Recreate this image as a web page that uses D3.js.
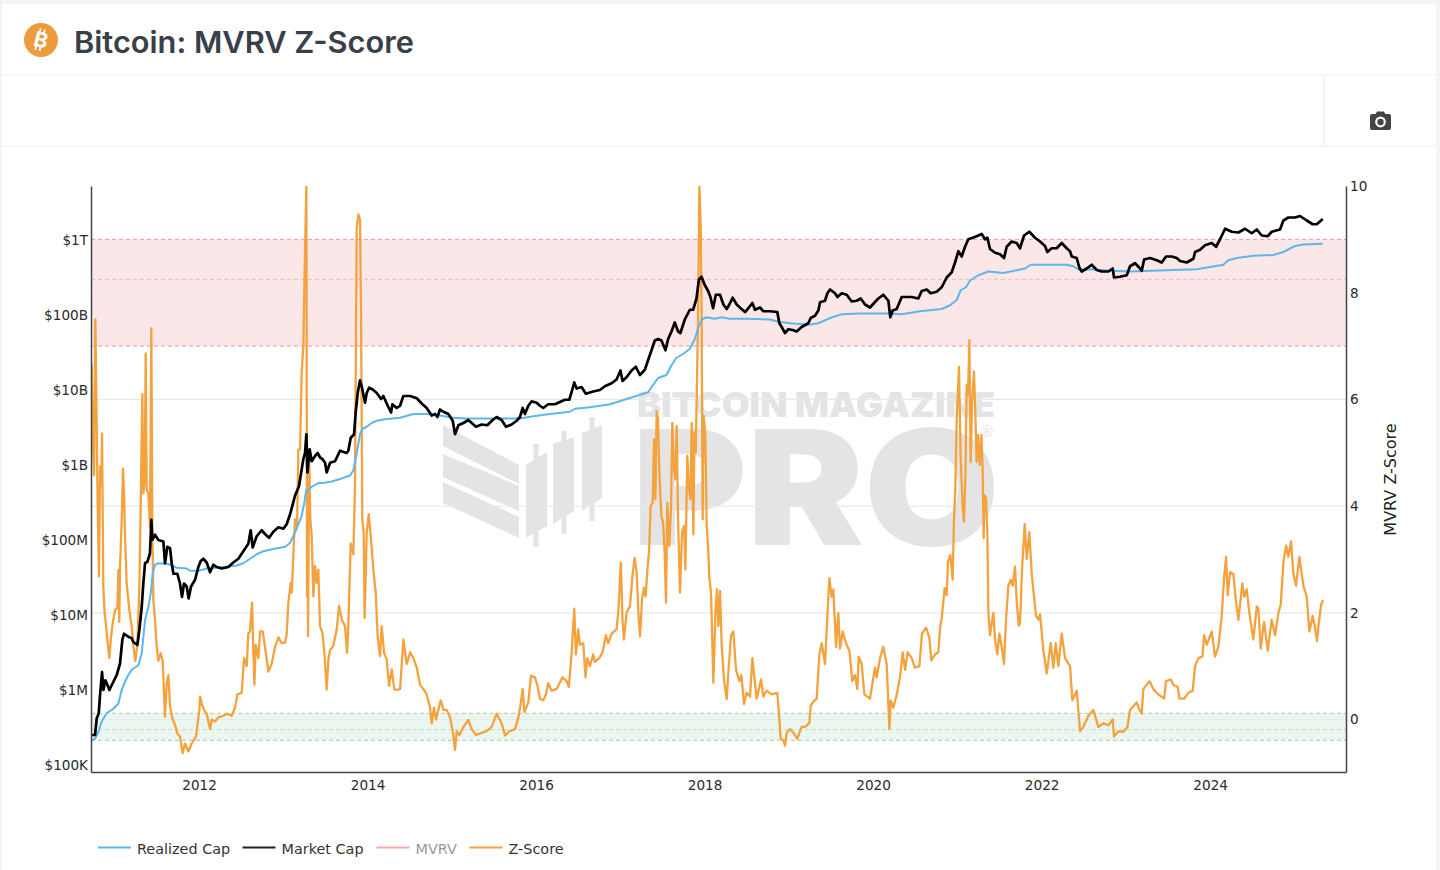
<!DOCTYPE html>
<html><head><meta charset="utf-8">
<script src="https://cdn.jsdelivr.net/npm/d3@7"></script>
<style>
html,body{margin:0;padding:0;background:#fff;width:1440px;height:870px;overflow:hidden}
svg{display:block}
text{font-family:"DejaVu Sans",sans-serif}
</style></head><body>
<svg id="c" width="1440" height="870"></svg>
<script>
// Every pair is [decimal year, value]. Z-Score values are raw; caps are log10(USD).
const zScoreA = [[2010.726,6.67],[2010.740,5.2],[2010.754,4.58],[2010.762,6.2],[2010.770,7.5],[2010.785,5.6],[2010.795,4.3],[2010.801,3.7],[2010.813,2.68],[2010.825,4.74],[2010.840,4.4],[2010.849,5.36],[2010.864,2.49],[2010.880,1.99],[2010.896,1.77],[2010.912,1.49],[2010.936,1.15],[2010.952,1.49],[2010.975,1.8],[2011.003,2.05],[2011.031,2.1],[2011.043,2.8],[2011.054,1.83],[2011.062,2.86],[2011.082,3.7],[2011.098,4.7],[2011.110,4.24],[2011.122,3.43],[2011.141,2.55],[2011.173,2.05],[2011.201,1.74],[2011.221,1.37],[2011.244,1.1],[2011.268,1.4],[2011.292,2.5],[2011.308,4.05],[2011.327,6.1],[2011.339,4.24],[2011.355,4.5],[2011.367,6.86],[2011.379,4.3],[2011.399,4.24],[2011.418,3.6],[2011.434,7.33],[2011.446,3.6],[2011.458,2.24],[2011.478,1.86],[2011.498,1.37],[2011.517,1.1],[2011.545,1.24],[2011.569,1.1],[2011.596,0.05],[2011.616,0.68],[2011.636,0.83],[2011.656,0.24],[2011.687,0],[2011.715,-0.1],[2011.743,-0.26],[2011.774,-0.32],[2011.806,-0.63],[2011.834,-0.45],[2011.873,-0.6],[2011.913,-0.45],[2011.964,-0.32],[2012.004,0.18]];
const zScoreB = [[2012.012,0.43],[2012.032,0.29],[2012.059,0.18],[2012.091,0.11],[2012.131,-0.18],[2012.150,0],[2012.190,-0.04],[2012.229,0.04],[2012.289,0.07],[2012.328,0.11],[2012.388,0.07],[2012.427,0.22],[2012.455,0.47],[2012.506,0.5],[2012.534,1.15],[2012.566,1.0],[2012.585,1.61],[2012.605,1.65],[2012.629,2.19],[2012.645,1.29],[2012.657,0.65],[2012.673,1.4],[2012.704,1.15],[2012.724,1.65],[2012.756,1.65],[2012.783,1.36],[2012.823,0.9],[2012.862,1.04],[2012.902,1.36],[2012.942,1.54],[2012.981,1.43],[2013.021,1.44],[2013.040,1.6],[2013.060,2.19],[2013.088,2.56],[2013.100,2.38],[2013.124,3.25],[2013.139,3.75],[2013.163,3.62],[2013.179,5.06],[2013.199,5.06],[2013.218,6.5],[2013.238,7.0],[2013.250,8.13],[2013.274,10],[2013.278,6.5],[2013.282,2.3],[2013.286,5.0],[2013.294,1.56],[2013.306,5.0],[2013.321,3.75],[2013.337,3.44],[2013.357,2.31],[2013.377,2.88],[2013.397,2.56],[2013.416,2.81],[2013.436,1.75],[2013.464,1.63],[2013.488,1.25],[2013.515,0.56],[2013.535,1.13],[2013.555,1.3],[2013.594,1.38],[2013.634,1.69],[2013.662,2.13],[2013.693,1.88],[2013.733,1.75],[2013.757,1.25],[2013.772,1.75],[2013.800,3.3],[2013.832,3.1],[2013.851,4.38],[2013.871,9.2],[2013.891,9.47],[2013.911,9.37],[2013.923,7.5],[2013.938,3.75],[2013.954,3.5],[2013.966,1.9],[2013.990,3.5],[2014.014,3.85],[2014.041,3.38],[2014.069,2.81],[2014.097,2.38],[2014.120,1.56],[2014.148,1.19],[2014.168,1.75],[2014.196,1.25],[2014.227,1.13],[2014.255,0.63],[2014.287,0.94],[2014.318,0.56],[2014.366,0.56]];
const zScoreC = [[2014.386,0.57],[2014.425,1.5],[2014.465,1.04],[2014.505,1.26],[2014.544,1.15],[2014.584,0.97],[2014.623,0.65],[2014.663,0.57],[2014.702,0.47],[2014.742,0.22],[2014.761,-0.07],[2014.789,0.22],[2014.813,0],[2014.868,0.36],[2014.900,0.18],[2014.939,0.18],[2014.979,0.04],[2015.011,-0.22],[2015.038,-0.57],[2015.058,-0.22],[2015.090,-0.29],[2015.137,-0.14],[2015.196,-0.01],[2015.236,-0.18],[2015.287,-0.29],[2015.354,-0.25],[2015.414,-0.22],[2015.473,-0.14],[2015.532,0.11],[2015.591,-0.07],[2015.631,-0.3],[2015.683,-0.22],[2015.750,-0.18],[2015.790,0.04],[2015.817,0.29],[2015.841,0.57],[2015.861,0.14],[2015.908,0.32],[2015.940,0.82],[2015.987,0.79],[2016.014,0.65],[2016.046,0.39],[2016.085,0.36],[2016.117,0.47],[2016.144,0.68],[2016.184,0.54],[2016.243,0.57],[2016.314,0.79],[2016.362,0.72],[2016.389,0.61],[2016.421,1.22],[2016.453,2.08],[2016.473,1.22],[2016.501,1.69],[2016.520,1.4],[2016.560,1.43],[2016.587,0.79],[2016.607,1.15],[2016.639,1.0],[2016.678,1.22],[2016.698,1.08],[2016.749,1.15],[2016.789,1.26],[2016.829,1.58],[2016.856,1.43],[2016.896,1.61],[2016.955,1.69],[2016.979,2.08],[2017.006,2.94],[2017.026,1.87],[2017.042,1.5],[2017.074,2.0],[2017.115,2.13]];
const zScoreD = [[2017.147,2.75],[2017.170,3.03],[2017.194,2.75],[2017.218,1.88],[2017.234,1.56],[2017.257,2.25],[2017.281,2.47],[2017.301,2.31],[2017.321,2.81],[2017.340,3.13],[2017.360,4.0],[2017.384,4.06],[2017.400,5.25],[2017.416,4.13],[2017.431,5.78],[2017.447,5.63],[2017.463,4.63],[2017.487,3.81],[2017.507,3.69],[2017.526,3.13],[2017.542,2.19],[2017.558,4.06],[2017.582,3.25],[2017.602,4.0],[2017.617,5.56],[2017.637,4.69],[2017.653,4.5],[2017.669,5.5],[2017.685,3.75],[2017.708,2.38],[2017.732,3.5],[2017.756,3.63],[2017.772,2.81],[2017.795,4.94],[2017.811,4.38],[2017.831,4.13],[2017.847,5.56],[2017.867,3.47],[2017.879,5.38],[2017.894,5.0],[2017.906,6.0],[2017.922,7.5],[2017.938,10],[2017.954,9.25],[2017.965,7.5],[2017.977,3.75],[2017.989,5.69],[2018.009,5.31],[2018.025,3.63],[2018.041,3.25],[2018.056,2.66],[2018.076,2.38],[2018.104,0.69],[2018.128,2.0],[2018.147,2.44],[2018.163,1.75],[2018.183,2.41],[2018.203,1.38],[2018.230,0.75],[2018.262,0.38],[2018.286,0.97],[2018.314,1.58],[2018.341,1.65],[2018.373,0.93],[2018.413,0.72],[2018.436,0.83],[2018.468,0.29],[2018.499,0.5],[2018.539,0.43],[2018.567,1.15],[2018.590,0.79],[2018.618,0.39],[2018.670,0.75],[2018.697,0.43],[2018.737,0.54],[2018.796,0.47],[2018.863,0.5],[2018.879,0.18],[2018.903,-0.36],[2018.935,-0.39],[2018.954,-0.49],[2018.974,-0.25],[2019.014,-0.18],[2019.053,-0.25],[2019.101,-0.36],[2019.152,-0.14],[2019.192,-0.14],[2019.243,-0.07],[2019.259,0.25],[2019.283,0.32],[2019.330,0.39],[2019.362,1.22],[2019.390,1.43],[2019.429,1.04],[2019.457,1.94],[2019.481,2.65],[2019.508,2.3],[2019.528,2.44],[2019.560,1.36],[2019.587,2.0],[2019.607,1.33],[2019.639,1.65],[2019.678,1.43],[2019.718,1.29],[2019.753,0.72],[2019.785,0.83],[2019.813,0.57],[2019.829,1.18],[2019.864,1.04],[2019.896,0.47],[2019.963,0.39],[2020.022,0.97],[2020.042,0.79],[2020.082,1.15],[2020.121,1.36],[2020.161,1.04],[2020.193,-0.18],[2020.208,0.36],[2020.240,0.22],[2020.280,0.47],[2020.319,0.79],[2020.351,1.26],[2020.379,0.93],[2020.410,1.26],[2020.458,1.15],[2020.497,0.97],[2020.549,1.0],[2020.580,1.61],[2020.628,1.72],[2020.667,1.54],[2020.691,1.11],[2020.735,1.22],[2020.774,1.26]];
const zScoreE = [[2020.794,1.71],[2020.814,1.9],[2020.849,2.46],[2020.873,2.33],[2020.889,2.96],[2020.917,3.08],[2020.944,2.62],[2020.960,3.77],[2020.976,4.33],[2020.992,5.65],[2021.019,6.61],[2021.039,4.9],[2021.063,3.96],[2021.079,3.71],[2021.095,4.58],[2021.111,6.27],[2021.126,6.08],[2021.142,7.11],[2021.158,4.83],[2021.174,5.96],[2021.197,6.52],[2021.213,5.71],[2021.229,4.83],[2021.245,5.33],[2021.265,4.77],[2021.285,5.33],[2021.300,4.7],[2021.312,3.4],[2021.320,4.2],[2021.340,4.15],[2021.356,3.46],[2021.368,2.0],[2021.387,1.58],[2021.427,2.0],[2021.447,1.5],[2021.474,1.22],[2021.498,1.61],[2021.526,1.36],[2021.554,1.04],[2021.577,1.87],[2021.605,2.51],[2021.633,2.62],[2021.657,2.51],[2021.684,2.87],[2021.704,2.22],[2021.728,1.76],[2021.743,1.8],[2021.767,2.8],[2021.799,3.66],[2021.823,3.01],[2021.854,3.51],[2021.882,2.73],[2021.910,2.3],[2021.933,1.94],[2021.961,1.87],[2021.981,1.97],[2022.021,1.29],[2022.060,0.86],[2022.108,1.43],[2022.139,0.97],[2022.167,1.43],[2022.199,1.0],[2022.238,1.61],[2022.278,1.15],[2022.337,1.0],[2022.365,0.36],[2022.416,0.54],[2022.456,-0.22],[2022.495,-0.14],[2022.555,0.07],[2022.614,0.18],[2022.673,-0.14],[2022.733,-0.07],[2022.792,-0.11],[2022.843,0],[2022.859,-0.32],[2022.911,-0.22],[2022.970,-0.23],[2023.018,-0.14],[2023.049,0.18],[2023.089,0.25],[2023.128,0.32],[2023.160,0.18],[2023.188,0.11],[2023.207,0.57],[2023.279,0.72],[2023.326,0.57],[2023.385,0.47],[2023.453,0.39],[2023.476,0.72],[2023.532,0.75],[2023.563,0.65],[2023.615,0.61],[2023.635,0.39],[2023.690,0.39],[2023.741,0.5],[2023.793,0.54],[2023.821,1.0],[2023.860,1.15],[2023.908,1.18],[2023.928,1.58],[2023.959,1.4],[2024.018,1.65],[2024.058,1.18],[2024.097,1.36],[2024.137,1.94],[2024.165,2.65],[2024.189,3.05],[2024.208,2.33],[2024.236,2.76],[2024.275,2.73],[2024.303,2.26],[2024.335,1.87],[2024.382,2.55],[2024.406,2.3],[2024.434,2.44],[2024.465,2.0],[2024.513,1.5],[2024.553,2.12],[2024.572,2.08],[2024.600,1.33],[2024.639,1.83],[2024.683,1.29],[2024.730,1.87],[2024.770,1.58],[2024.810,2.0],[2024.837,2.15],[2024.869,2.94],[2024.901,3.26],[2024.928,3.05],[2024.960,3.34],[2024.988,2.73],[2025.019,2.51],[2025.059,3.05],[2025.106,2.51],[2025.146,2.3],[2025.177,1.65],[2025.217,1.94],[2025.245,1.72],[2025.268,1.47],[2025.288,1.79],[2025.316,2.15],[2025.340,2.24]];

const marketCapA = [[2010.726,5.40],[2010.766,5.40],[2010.786,5.62],[2010.810,5.69],[2010.825,5.93],[2010.849,6.24],[2010.865,6.0],[2010.889,6.13],[2010.912,6.07],[2010.936,6.0],[2010.975,6.09],[2011.023,6.2],[2011.062,6.35],[2011.090,6.67],[2011.110,6.75],[2011.161,6.71],[2011.201,6.69],[2011.221,6.64],[2011.268,6.6],[2011.292,6.8],[2011.320,7.11],[2011.339,7.42],[2011.359,7.69],[2011.387,7.71],[2011.418,7.82],[2011.434,8.27],[2011.446,8.0],[2011.478,8.07],[2011.517,8.0],[2011.577,7.98],[2011.596,7.69],[2011.624,7.91],[2011.656,7.89],[2011.676,7.69],[2011.696,7.55],[2011.743,7.55],[2011.774,7.42],[2011.798,7.24],[2011.822,7.42],[2011.854,7.38],[2011.877,7.22],[2011.905,7.38],[2011.953,7.47],[2011.992,7.64],[2012.020,7.72],[2012.051,7.75],[2012.091,7.70],[2012.131,7.57],[2012.170,7.67],[2012.210,7.64],[2012.269,7.62],[2012.348,7.64],[2012.407,7.70],[2012.467,7.75],[2012.526,7.85],[2012.585,7.95],[2012.613,8.13],[2012.637,7.9],[2012.684,8.05],[2012.744,8.13],[2012.783,8.08],[2012.831,8.03],[2012.882,8.11],[2012.942,8.17],[2013.001,8.15]];
const marketCapB = [[2013.040,8.21],[2013.080,8.34],[2013.139,8.59],[2013.187,8.72],[2013.218,8.94],[2013.238,9.08],[2013.258,9.16],[2013.274,9.41],[2013.286,8.9],[2013.313,9.21],[2013.337,9.05],[2013.377,9.12],[2013.408,9.16],[2013.436,9.1],[2013.464,9.08],[2013.496,9.03],[2013.515,8.9],[2013.555,9.03],[2013.614,9.05],[2013.673,9.19],[2013.752,9.16],[2013.772,9.19],[2013.800,9.36],[2013.840,9.41],[2013.859,9.7],[2013.883,9.96],[2013.911,10.13],[2013.931,10.05],[2013.950,9.94],[2013.970,9.83],[2013.990,9.96],[2014.018,10.03],[2014.057,10.01],[2014.109,9.96],[2014.160,9.88],[2014.188,9.92],[2014.239,9.79],[2014.279,9.7],[2014.295,9.81],[2014.346,9.76],[2014.386,9.79],[2014.425,9.92],[2014.505,9.92],[2014.584,9.89],[2014.643,9.82],[2014.702,9.76],[2014.761,9.66],[2014.801,9.68],[2014.829,9.64],[2014.860,9.74],[2014.900,9.71],[2014.959,9.68],[2015.011,9.59],[2015.038,9.41],[2015.078,9.53],[2015.137,9.56],[2015.196,9.6],[2015.287,9.51],[2015.354,9.54],[2015.421,9.53],[2015.484,9.6],[2015.532,9.64],[2015.591,9.6],[2015.643,9.51],[2015.710,9.54],[2015.769,9.59],[2015.809,9.64],[2015.841,9.76],[2015.868,9.68],[2015.908,9.79],[2015.948,9.85],[2016.007,9.83],[2016.046,9.79],[2016.085,9.76],[2016.144,9.81],[2016.224,9.81],[2016.283,9.84],[2016.342,9.87],[2016.394,9.87],[2016.421,9.97],[2016.453,10.1],[2016.481,10.02],[2016.540,10.04],[2016.591,9.95],[2016.678,9.98],[2016.757,10.0],[2016.816,10.05],[2016.896,10.09],[2016.955,10.14],[2017.002,10.26],[2017.026,10.12],[2017.074,10.17]];
const marketCapC = [[2017.133,10.26],[2017.184,10.31],[2017.232,10.2],[2017.291,10.27],[2017.330,10.4],[2017.370,10.53],[2017.409,10.66],[2017.449,10.68],[2017.488,10.66],[2017.536,10.53],[2017.567,10.68],[2017.607,10.78],[2017.646,10.9],[2017.686,10.78],[2017.713,10.76],[2017.765,10.94],[2017.825,11.07],[2017.864,11.07],[2017.904,11.22],[2017.932,11.47],[2017.963,11.51],[2018.002,11.4],[2018.042,11.32],[2018.069,11.24],[2018.101,11.09],[2018.133,11.27],[2018.183,11.27],[2018.223,11.14],[2018.262,11.08],[2018.294,11.14],[2018.333,11.23],[2018.381,11.14],[2018.428,11.09],[2018.480,11.04],[2018.519,11.09],[2018.567,11.16],[2018.598,11.07],[2018.658,11.1],[2018.697,11.05],[2018.776,11.05],[2018.863,11.04],[2018.887,10.89],[2018.915,10.84],[2018.954,10.76],[2018.994,10.81],[2019.045,10.8],[2019.093,10.78],[2019.152,10.84],[2019.231,10.89],[2019.259,10.96],[2019.310,10.99],[2019.350,11.06],[2019.370,11.17],[2019.429,11.19],[2019.457,11.29],[2019.489,11.34],[2019.548,11.29],[2019.576,11.24],[2019.627,11.29],[2019.686,11.27],[2019.746,11.18],[2019.805,11.19],[2019.852,11.22],[2019.904,11.14],[2019.963,11.1],[2020.011,11.16],[2020.062,11.22],[2020.121,11.27],[2020.181,11.19],[2020.204,10.97],[2020.232,11.06],[2020.280,11.08],[2020.339,11.24],[2020.398,11.24],[2020.458,11.24],[2020.537,11.22],[2020.576,11.32],[2020.636,11.34],[2020.683,11.29],[2020.754,11.31],[2020.814,11.37],[2020.873,11.5],[2020.933,11.57],[2020.972,11.7],[2021.012,11.85],[2021.051,11.78],[2021.091,11.91],[2021.130,12.01],[2021.182,12.03],[2021.229,12.05],[2021.289,12.08],[2021.328,12.01],[2021.356,12.03],[2021.387,11.88],[2021.447,11.83],[2021.506,11.81],[2021.554,11.76],[2021.585,11.91],[2021.644,11.98],[2021.704,11.96],[2021.743,11.89],[2021.791,12.06],[2021.854,12.11],[2021.921,12.03],[2021.981,11.98]];
const marketCapD = [[2022.040,11.92],[2022.068,11.84],[2022.119,11.89],[2022.179,11.89],[2022.238,11.96],[2022.297,11.89],[2022.337,11.85],[2022.357,11.78],[2022.416,11.76],[2022.448,11.63],[2022.476,11.58],[2022.535,11.62],[2022.594,11.67],[2022.654,11.6],[2022.713,11.58],[2022.792,11.58],[2022.843,11.62],[2022.859,11.5],[2022.930,11.51],[2023.010,11.53],[2023.049,11.65],[2023.109,11.69],[2023.160,11.63],[2023.188,11.59],[2023.216,11.74],[2023.287,11.76],[2023.366,11.73],[2023.425,11.7],[2023.476,11.78],[2023.544,11.78],[2023.603,11.76],[2023.643,11.72],[2023.722,11.7],[2023.801,11.75],[2023.821,11.84],[2023.880,11.87],[2023.939,11.93],[2024.018,11.96],[2024.070,11.91],[2024.117,12.01],[2024.177,12.15],[2024.256,12.11],[2024.335,12.1],[2024.414,12.15],[2024.493,12.09],[2024.553,12.14],[2024.612,12.06],[2024.683,12.05],[2024.730,12.11],[2024.829,12.14],[2024.869,12.26],[2024.928,12.3],[2025.007,12.3],[2025.067,12.32],[2025.146,12.26],[2025.217,12.21],[2025.265,12.21],[2025.336,12.28]];

const realizedCapA = [[2010.726,5.33],[2010.766,5.35],[2010.806,5.44],[2010.845,5.58],[2010.904,5.69],[2010.983,5.75],[2011.043,5.82],[2011.082,6.0],[2011.122,6.11],[2011.161,6.2],[2011.201,6.27],[2011.280,6.33],[2011.320,6.49],[2011.359,6.93],[2011.399,7.11],[2011.427,7.29],[2011.450,7.55],[2011.478,7.67],[2011.517,7.69],[2011.636,7.68],[2011.735,7.63],[2011.854,7.62],[2011.893,7.59],[2011.992,7.59],[2012.091,7.62],[2012.289,7.64],[2012.447,7.66],[2012.526,7.69],[2012.605,7.75],[2012.684,7.81],[2012.763,7.85],[2012.882,7.88],[2013.021,7.91],[2013.080,7.96],[2013.139,8.1],[2013.179,8.21],[2013.218,8.32],[2013.250,8.5],[2013.274,8.67],[2013.290,8.66],[2013.337,8.71],[2013.416,8.76],[2013.476,8.76],[2013.575,8.78],[2013.693,8.82],[2013.792,8.86],[2013.832,8.93],[2013.871,9.16],[2013.911,9.41],[2013.938,9.48],[2013.990,9.51],[2014.049,9.56],[2014.109,9.59],[2014.207,9.61],[2014.386,9.63]];
const realizedCapB = [[2014.544,9.68],[2014.702,9.68],[2014.860,9.66],[2015.019,9.63],[2015.177,9.62],[2015.494,9.62],[2015.809,9.62],[2015.967,9.65],[2016.165,9.68],[2016.403,9.71],[2016.462,9.75],[2016.640,9.77],[2016.877,9.81],[2017.074,9.88],[2017.330,9.97],[2017.389,10.07],[2017.449,10.16],[2017.548,10.2],[2017.607,10.33],[2017.666,10.43],[2017.745,10.48],[2017.825,10.55],[2017.884,10.68],[2017.924,10.83],[2017.963,10.94],[2018.022,10.97],[2018.121,10.95],[2018.200,10.97],[2018.299,10.95],[2018.499,10.95],[2018.776,10.94],[2018.875,10.91],[2019.014,10.89],[2019.231,10.87],[2019.350,10.89],[2019.489,10.96],[2019.627,11.01],[2019.845,11.02],[2020.201,11.02],[2020.339,11.01],[2020.557,11.05],[2020.814,11.08],[2020.913,11.13],[2020.992,11.2],[2021.039,11.33],[2021.103,11.37],[2021.150,11.46],[2021.249,11.53],[2021.368,11.58],[2021.546,11.56],[2021.803,11.62],[2021.870,11.67],[2022.100,11.67],[2022.297,11.67],[2022.377,11.65],[2022.448,11.6],[2022.574,11.61],[2022.832,11.59],[2023.049,11.58],[2023.563,11.6],[2023.840,11.61],[2024.157,11.67],[2024.216,11.73],[2024.315,11.76],[2024.513,11.79],[2024.750,11.8],[2024.869,11.84],[2025.007,11.92],[2025.106,11.94],[2025.336,11.95]];

const zScore = [...zScoreA, ...zScoreB, ...zScoreC, ...zScoreD, ...zScoreE];
const marketCap = [...marketCapA, ...marketCapB, ...marketCapC, ...marketCapD];
const realizedCap = [...realizedCapA, ...realizedCapB];

const capTickValues = [1e5,1e6,1e7,1e8,1e9,1e10,1e11,1e12];
const capTickLabels = ["$100K","$1M","$10M","$100M","$1B","$10B","$100B","$1T"];
const zTickValues = [0,2,4,6,8,10];
const yearTicks = [2012,2014,2016,2018,2020,2022,2024];
const overvaluedBand = [7,9];
const overvaluedMid = 8.25;
const undervaluedBand = [-0.39,0.115];
const undervaluedMid = -0.19;
const legendNames = ["Realized Cap","Market Cap","MVRV","Z-Score"];
const legendColors = ["#5db7ea","#222222","#f9a9a9","#f4a23e"];
const legendTextColors = ["#333","#333","#999","#333"];

const L=91,R=1346,T=186,B=772;
const x=d3.scaleLinear().domain([2010.718,2025.612]).range([L,R]);
const yCap=d3.scaleLog().domain([Math.pow(10,4.9067),Math.pow(10,12.72)]).range([B,T]);
const yZ=d3.scaleLinear().domain([-0.984,10]).range([B,T]);
const svg=d3.select("#c");

// page chrome
const border="#eceef0";
svg.append("rect").attr("width",1440).attr("height",4).attr("fill","#f4f5f7");
svg.append("rect").attr("x",1436).attr("width",4).attr("height",870).attr("fill","#f4f5f7");
svg.append("rect").attr("width",1.5).attr("height",870).attr("fill","#f0f1f3");
[[0,75,1436,75],[0,146,1436,146],[1324,75,1324,146]].forEach(l=>svg.append("line").attr("x1",l[0]).attr("y1",l[1]).attr("x2",l[2]).attr("y2",l[3]).attr("stroke",border).attr("stroke-width",1.2));

// coin + title
const coin=svg.append("g").attr("transform","translate(41,40)");
coin.append("circle").attr("r",17).attr("fill","#ec9b3d");
const cb=coin.append("g").attr("transform","rotate(14)");
cb.append("text").attr("text-anchor","middle").attr("y",7.5).attr("font-size",21).attr("font-weight",700).attr("fill","#fff").style("font-family","Inter").text("B");
[[-3.2,-11,-3.2,-7],[1.2,-11,1.2,-7],[-3.2,7,-3.2,11],[1.2,7,1.2,11]].forEach(l=>cb.append("line").attr("x1",l[0]).attr("y1",l[1]).attr("x2",l[2]).attr("y2",l[3]).attr("stroke","#fff").attr("stroke-width",1.7));
svg.append("text").attr("x",74).attr("y",53).attr("font-size",30).attr("font-weight",600).attr("fill","#39404a").attr("textLength",340).attr("lengthAdjust","spacingAndGlyphs").style("font-family","Inter").text("Bitcoin: MVRV Z-Score");

// camera
const cam=svg.append("g").attr("transform","translate(1380.5,121.5)");
cam.append("path").attr("fill","#444").attr("d","M-10.5,-5.5 a2,2 0 0 1 2,-2 h3.5 l1.6,-2.4 h6.8 l1.6,2.4 h3.5 a2,2 0 0 1 2,2 v12 a2,2 0 0 1 -2,2 h-17 a2,2 0 0 1 -2,-2 z");
cam.append("circle").attr("r",5.4).attr("cy",0.5).attr("fill","#fff");
cam.append("circle").attr("r",3.2).attr("cy",0.5).attr("fill","#444");

// watermark
const wm="#e4e4e4";
const w=svg.append("g");
[[[443,425],[519,465],[519,484],[443,446]],[[443,454],[519,486],[519,511],[443,477]],[[443,482],[519,517],[519,538],[443,503]],
 [[526,465],[547,452],[547,526],[526,538]],[[553,444],[574,437],[574,511],[553,524]],[[582,433],[602,425],[602,498],[582,511]]]
 .forEach(p=>w.append("polygon").attr("points",p.join(" ")).attr("fill",wm));
[[536,444,547],[564,431,534],[592,417,521]].forEach(c=>w.append("line").attr("x1",c[0]).attr("x2",c[0]).attr("y1",c[1]).attr("y2",c[2]).attr("stroke",wm).attr("stroke-width",5));
w.append("text").attr("x",637).attr("y",417).attr("font-size",34.5).attr("font-weight",900).attr("fill",wm).attr("textLength",358).attr("lengthAdjust","spacingAndGlyphs").style("font-family","Inter").text("BITCOIN MAGAZINE");
w.append("text").attr("x",632).attr("y",545).attr("font-size",160).attr("font-weight",900).attr("fill",wm).attr("textLength",368).attr("lengthAdjust","spacingAndGlyphs").style("font-family","Inter").text("PRO");
w.append("text").attr("x",987).attr("y",437).attr("text-anchor","middle").attr("font-size",15).attr("fill",wm).text("®");

// bands
const plot=svg.append("g");
plot.append("rect").attr("x",L).attr("width",R-L).attr("y",yZ(overvaluedBand[1])).attr("height",yZ(overvaluedBand[0])-yZ(overvaluedBand[1])).attr("fill","#f6c9c9").attr("opacity",.45);
plot.append("rect").attr("x",L).attr("width",R-L).attr("y",yZ(undervaluedBand[1])).attr("height",yZ(undervaluedBand[0])-yZ(undervaluedBand[1])).attr("fill","#cfeadb").attr("opacity",.42);

// grid
zTickValues.filter(v=>v<10).forEach(v=>plot.append("line").attr("x1",L).attr("x2",R).attr("y1",yZ(v)).attr("y2",yZ(v)).attr("stroke","#e9e9e9").attr("stroke-width",1.2));

// dashed threshold lines
const dash=(v,c,o)=>plot.append("line").attr("x1",L).attr("x2",R).attr("y1",yZ(v)).attr("y2",yZ(v)).attr("stroke",c).attr("stroke-width",1).attr("stroke-dasharray","4,3").attr("opacity",o);
overvaluedBand.forEach(v=>dash(v,"#f09a9a",1));
dash(overvaluedMid,"#f4b5b5",.9);
undervaluedBand.forEach(v=>dash(v,"#a5d3a0",1));
dash(undervaluedMid,"#bcdcc0",.9);

// series
svg.append("clipPath").attr("id","plotclip").append("rect").attr("x",L).attr("y",T).attr("width",R-L).attr("height",B-T);
const lines=svg.append("g").attr("clip-path","url(#plotclip)").attr("fill","none").attr("stroke-linejoin","round");
const lineZ=d3.line().x(d=>x(d[0])).y(d=>yZ(d[1]));
const lineCap=d3.line().x(d=>x(d[0])).y(d=>yCap(Math.pow(10,d[1])));
lines.append("path").datum(zScore).attr("d",lineZ).attr("stroke",legendColors[3]).attr("stroke-width",2.3);
lines.append("path").datum(realizedCap).attr("d",lineCap).attr("stroke",legendColors[0]).attr("stroke-width",2);
lines.append("path").datum(marketCap).attr("d",lineCap).attr("stroke","#000").attr("stroke-width",2.7);

// axes
const tickStyle=g=>{g.selectAll("text").attr("fill","#2b2b2b").attr("font-size",13.6).style("font-family","DejaVu Sans");g.selectAll(".tick line").remove();g.select(".domain").attr("stroke","#444").attr("stroke-width",1.5);};
svg.append("g").attr("transform",`translate(${L},0)`).call(d3.axisLeft(yCap).tickValues(capTickValues).tickSize(0).tickPadding(3).tickFormat((d,i)=>capTickLabels[i])).call(tickStyle);
svg.append("g").attr("transform",`translate(${R},0)`).call(d3.axisRight(yZ).tickValues(zTickValues).tickSize(0).tickPadding(4)).call(tickStyle);
svg.append("g").attr("transform",`translate(0,${B})`).call(d3.axisBottom(x).tickValues(yearTicks).tickSize(0).tickPadding(8).tickFormat(d3.format("d"))).call(tickStyle);
svg.append("text").attr("transform","translate(1396,479.5) rotate(-90)").attr("text-anchor","middle").attr("font-size",16).attr("fill","#222").text("MVRV Z-Score");

// legend
const legendX=[98,242.5,376.5,469.5];
legendNames.forEach((n,i)=>{
  svg.append("line").attr("x1",legendX[i]).attr("x2",legendX[i]+33).attr("y1",847.5).attr("y2",847.5).attr("stroke",legendColors[i]).attr("stroke-width",2);
  svg.append("text").attr("x",legendX[i]+39).attr("y",853.5).attr("font-size",14.4).attr("fill",legendTextColors[i]).text(n);
});
</script>
</body></html>
